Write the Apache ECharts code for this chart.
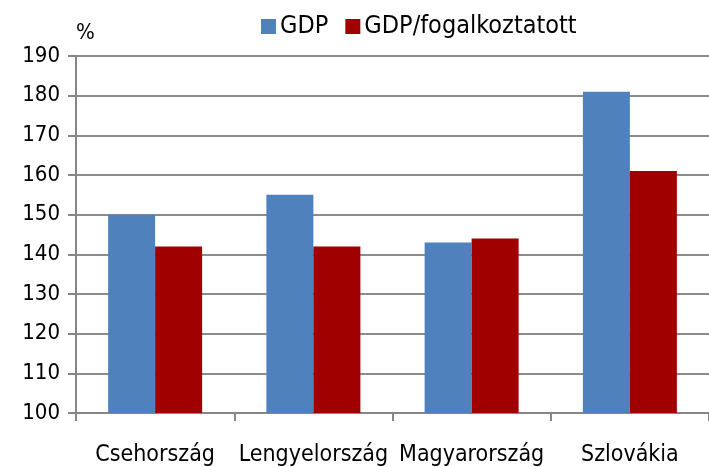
<!DOCTYPE html>
<html><head><meta charset="utf-8">
<script src="https://cdn.jsdelivr.net/npm/echarts@6/dist/echarts.min.js"></script>
<style>html,body{margin:0;padding:0;background:#fff}#c{width:709px;height:467px}</style>
</head><body><div id="c"></div>
<script>
const categories = ['Csehország', 'Lengyelország', 'Magyarország', 'Szlovákia'];
const gdp = [150, 155, 143, 181];
const gdpPerEmployed = [142, 142, 144, 161];
const seriesNames = ['GDP', 'GDP/fogalkoztatott'];
const yMin = 100, yMax = 190, yStep = 10;

const font = '"DejaVu Sans Condensed", "DejaVu Sans", sans-serif';
const chart = echarts.init(document.getElementById('c'));
chart.setOption({
  animation: false,
  textStyle: { fontFamily: font },
  legend: {
    top: 9, left: 256,
    itemWidth: 15, itemHeight: 15, itemGap: 17,
    icon: 'rect',
    textStyle: { fontSize: 25, color: '#000', fontFamily: font, padding: [0,0,0,-1] },
    data: seriesNames
  },
  grid: { left: 76, right: -13, top: 56, bottom: 54, containLabel: false },
  xAxis: {
    type: 'category', data: categories,
    axisLine: { lineStyle: { color: '#868686', width: 2 } },
    axisTick: { show: true, length: 8, lineStyle: { color: '#868686', width: 2 } },
    axisLabel: { fontSize: 23, color: '#000', margin: 31, fontFamily: font, interval: 0 }
  },
  yAxis: {
    type: 'value', min: yMin, max: yMax, interval: yStep,
    name: '%', nameLocation: 'end', nameGap: 12,
    nameTextStyle: { fontSize: 22, color: '#000', align: 'left', fontFamily: font },
    axisLine: { show: true, lineStyle: { color: '#868686', width: 2 } },
    axisTick: { show: true, length: 8, lineStyle: { color: '#868686', width: 2 } },
    axisLabel: { fontSize: 22, color: '#000', margin: 16, fontFamily: font },
    splitLine: { lineStyle: { color: '#8c8c8c', width: 2 } }
  },
  series: [
    { name: seriesNames[0], type: 'bar', data: gdp, itemStyle: { color: '#4f81bd' }, barGap: '0%', barWidth: 47 },
    { name: seriesNames[1], type: 'bar', data: gdpPerEmployed, itemStyle: { color: '#a00000' }, barGap: '0%', barWidth: 47 }
  ]
});
</script></body></html>
